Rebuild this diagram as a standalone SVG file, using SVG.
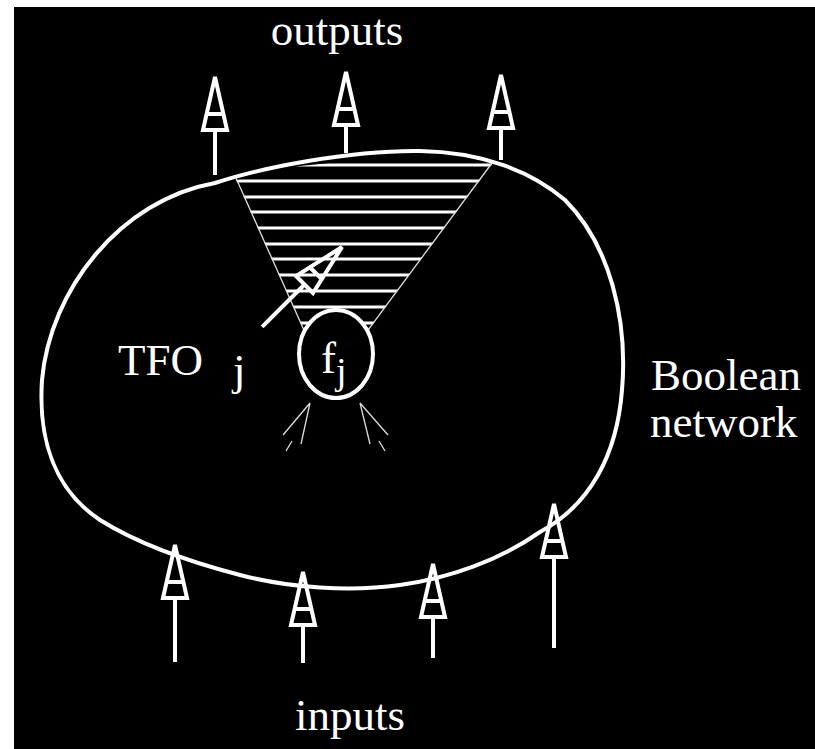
<svg xmlns="http://www.w3.org/2000/svg" width="815" height="749" viewBox="0 0 815 749">
<style>
.lbl{font-family:"Liberation Serif","Times New Roman",serif;fill:#fff;font-size:45px}
.thick{fill:none;stroke:#fff;stroke-width:4}
.thin{fill:none;stroke:#ddd;stroke-width:1.3}
.hatch{stroke:#fff;stroke-width:3}
</style>
<defs>
<g id="head">
<path d="M0,0 L-12,53 L12,53 Z M-8.4,37 L8.4,37" class="thick" stroke-linejoin="miter"/>
</g>
<clipPath id="coneClip">
<polygon points="236,180 300,166 420,154 493,163 328,384"/>
</clipPath>
</defs>
<rect x="0" y="0" width="815" height="749" fill="#fff"/>
<rect x="14" y="7" width="801" height="742" fill="#000"/>

<g id="network">
<path class="thick" d="M215,183 C260,168 350,150 420,151 C480,152 530,170 565,200 C610,245 628,320 622,390 C617,455 590,505 540,532 C500,560 450,578 400,585 C350,592 290,588 240,575 C190,562 140,545 100,520 C55,490 38,440 42,380 C50,290 120,200 215,183 Z"/>
</g>

<g id="tfo-cone">
<g clip-path="url(#coneClip)">
<line class="hatch" x1="200" y1="165" x2="520" y2="165"/>
<line class="hatch" x1="200" y1="181" x2="520" y2="181"/>
<line class="hatch" x1="200" y1="197" x2="520" y2="197"/>
<line class="hatch" x1="200" y1="212" x2="520" y2="212"/>
<line class="hatch" x1="200" y1="228" x2="520" y2="228"/>
<line class="hatch" x1="200" y1="244" x2="520" y2="244"/>
<line class="hatch" x1="200" y1="259" x2="520" y2="259"/>
<line class="hatch" x1="200" y1="275" x2="520" y2="275"/>
<line class="hatch" x1="200" y1="291" x2="520" y2="291"/>
<line class="hatch" x1="200" y1="307" x2="520" y2="307"/>
<line class="hatch" x1="200" y1="323" x2="520" y2="323"/>
</g>
<line class="thin" x1="236" y1="178" x2="328" y2="384"/>
<line class="thin" x1="492" y1="163" x2="328" y2="384"/>
</g>

<g id="node-fj">
<ellipse cx="336" cy="354" rx="37" ry="44" fill="#000" stroke="#fff" stroke-width="4"/>
<text class="lbl" x="321" y="373">f</text>
<text class="lbl" x="336" y="384" style="font-size:38px">j</text>
</g>

<g id="connectors">
<g id="out1"><use href="#head" transform="translate(215,77)"/><line class="thick" x1="215" y1="130" x2="215" y2="175"/></g>
<g id="out2"><use href="#head" transform="translate(346,72)"/><line class="thick" x1="346" y1="125" x2="346" y2="153"/></g>
<g id="out3"><use href="#head" transform="translate(501,75)"/><line class="thick" x1="501" y1="128" x2="501" y2="160"/></g>
<g id="in1"><use href="#head" transform="translate(175,545)"/><line class="thick" x1="175" y1="598" x2="175" y2="662"/></g>
<g id="in2"><use href="#head" transform="translate(303,572)"/><line class="thick" x1="303" y1="625" x2="303" y2="663"/></g>
<g id="in3"><use href="#head" transform="translate(433,564)"/><line class="thick" x1="433" y1="617" x2="433" y2="658"/></g>
<g id="in4"><use href="#head" transform="translate(554,504)"/><line class="thick" x1="554" y1="557" x2="554" y2="648"/></g>
<g id="tfo-arrow" transform="translate(342,247) rotate(45)"><use href="#head"/><line class="thick" x1="0" y1="53" x2="0" y2="113"/></g>
<g id="fanin-left">
<path class="thin" d="M283,435 L310,403 L301,444 M292,441 L286,451"/>
</g>
<g id="fanin-right">
<path class="thin" d="M388,435 L360,403 L370,444 M379,441 L385,451"/>
</g>
</g>

<g id="labels">
<text class="lbl" x="337" y="45" text-anchor="middle">outputs</text>
<text class="lbl" x="350" y="730" text-anchor="middle">inputs</text>
<text class="lbl" x="118" y="375">TFO</text>
<text class="lbl" x="233" y="385">j</text>
<text class="lbl" x="651" y="390">Boolean</text>
<text class="lbl" x="650" y="437">network</text>
</g>
</svg>
